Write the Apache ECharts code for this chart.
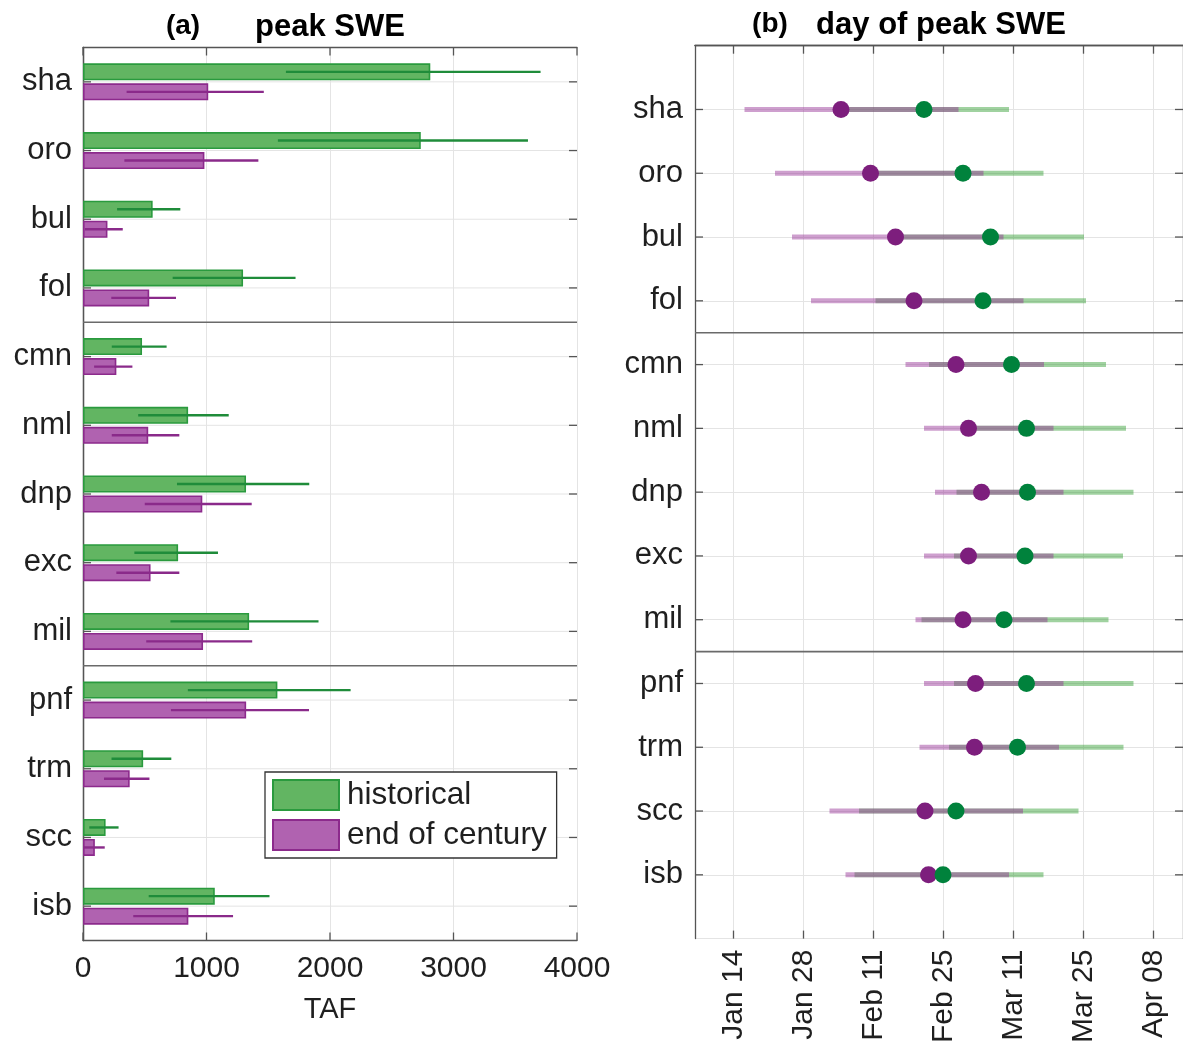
<!DOCTYPE html>
<html>
<head>
<meta charset="utf-8">
<script src="https://cdn.jsdelivr.net/npm/echarts@6/dist/echarts.min.js"></script>
<style>html,body{margin:0;padding:0;background:#fff}#c{width:1183px;height:1046px}</style>
</head>
<body>
<div id="c"></div>
<script>
// ---------- data ----------
const sites = ['sha','oro','bul','fol','cmn','nml','dnp','exc','mil','pnf','trm','scc','isb'];
const groupEnds = ['fol','mil'];

// (a) peak SWE, TAF
const histPeak     = [2812, 2735, 564, 1296, 478, 851, 1320, 770, 1345, 1574, 487, 183, 1067];
const histPeakLow  = [1643, 1578, 276, 726, 233, 447, 761, 416, 708, 849, 231, 51, 532];
const histPeakHigh = [3705, 3603, 788, 1721, 677, 1180, 1832, 1093, 1907, 2167, 715, 288, 1510];
const eocPeak      = [1014, 983, 198, 536, 270, 528, 966, 547, 972, 1321, 378, 96, 853];
const eocPeakLow   = [353, 335, 15, 229, 90, 233, 500, 270, 512, 712, 170, 5, 407];
const eocPeakHigh  = [1464, 1420, 322, 753, 400, 780, 1366, 780, 1370, 1830, 538, 176, 1215];

// (b) day of peak SWE, day of year
const histDay      = [52.1, 59.9, 65.4, 63.9, 69.6, 72.6, 72.8, 72.3, 68.1, 72.6, 70.8, 58.5, 55.9];
const histDayLow   = [36.5, 42.4, 47.5, 42.4, 53.1, 60.1, 58.6, 58.1, 51.6, 58.1, 57.1, 39.1, 38.2];
const histDayHigh  = [69.1, 76.0, 84.1, 84.5, 88.5, 92.5, 94.0, 91.9, 89.0, 94.0, 92.0, 83.0, 76.0];
const eocDay       = [35.5, 41.4, 46.4, 50.1, 58.5, 61.0, 63.6, 61.0, 59.9, 62.4, 62.2, 52.3, 53.0];
const eocDayLow    = [16.2, 22.3, 25.7, 29.5, 48.4, 52.1, 54.3, 52.1, 50.4, 52.1, 51.2, 33.2, 36.4];
const eocDayHigh   = [59.0, 64.0, 68.0, 72.0, 76.1, 78.0, 80.0, 78.0, 76.8, 80.0, 79.1, 71.9, 69.1];

const peakTicks  = [0, 1000, 2000, 3000, 4000];
const dateTicks  = [14, 28, 42, 56, 70, 84, 98];
const dateLabels = ['Jan 14', 'Jan 28', 'Feb 11', 'Feb 25', 'Mar 11', 'Mar 25', 'Apr 08'];

// ---------- style ----------
const FONT = '"Liberation Sans", Arial, Helvetica, sans-serif';
const TXT = '#1f1f1f';
const AX = '#555555';
const GRIDC = '#e4e4e4';
const BAR_W = 17, BAR_GAP = 3;
const G_FILL = '#62b562', G_EDGE = '#2a9a3e', G_ERR = '#1f8c3a';
const P_FILL = '#b062b0', P_EDGE = '#8c2a8c', P_ERR = '#8a2a8a';
const TICK_LEN = 8;

const chart = echarts.init(document.getElementById('c'), null, {renderer: 'canvas'});

function axLine() { return {show: true, lineStyle: {color: AX, width: 1.3}}; }
function lbl(extra) { return Object.assign({color: TXT, fontSize: 30, fontFamily: FONT}, extra || {}); }

function errorBars(low, high, color, dir) {
  return {
    type: 'custom', xAxisIndex: 0, yAxisIndex: 0, z: 5, silent: true,
    data: sites.map((s, i) => [low[i], high[i], i]),
    encode: {x: [0, 1], y: 2},
    renderItem(params, api) {
      const a = api.coord([api.value(0), api.value(2)]);
      const b = api.coord([api.value(1), api.value(2)]);
      const off = dir * (BAR_W / 2 + BAR_GAP / 2);
      return {type: 'line', shape: {x1: a[0], y1: a[1] + off, x2: b[0], y2: b[1] + off},
              style: {stroke: color, lineWidth: 2.4}};
    }
  };
}

function rangeLines(low, high, color) {
  return {
    type: 'custom', xAxisIndex: 2, yAxisIndex: 2, z: 3, silent: true,
    data: sites.map((s, i) => [low[i], high[i], i + 1]),
    encode: {x: [0, 1], y: 2},
    renderItem(params, api) {
      const a = api.coord([api.value(0), api.value(2)]);
      const b = api.coord([api.value(1), api.value(2)]);
      return {type: 'line', shape: {x1: a[0], y1: a[1], x2: b[0], y2: b[1]},
              style: {stroke: color, lineWidth: 5, lineCap: 'butt'}};
    }
  };
}

// inward-pointing ticks on all four sides of a panel (box style)
function frameTicks(xi, yi, xVals, yVals) {
  return {
    type: 'custom', xAxisIndex: xi, yAxisIndex: yi, z: 7, silent: true, clip: false,
    data: [[xVals[0], yVals[0]]], encode: {x: 0, y: 1},
    renderItem(params, api) {
      const cs = params.coordSys;
      const kids = [];
      const seg = (x1, y1, x2, y2) => kids.push({type: 'line', shape: {x1, y1, x2, y2},
        style: {stroke: AX, lineWidth: 1.3}});
      xVals.forEach(v => {
        const x = api.coord([v, yVals[0]])[0];
        seg(x, cs.y + cs.height, x, cs.y + cs.height - TICK_LEN);
        seg(x, cs.y, x, cs.y + TICK_LEN);
      });
      yVals.forEach(v => {
        const y = api.coord([xVals[0], v])[1];
        seg(cs.x, y, cs.x + TICK_LEN, y);
        seg(cs.x + cs.width, y, cs.x + cs.width - TICK_LEN, y);
      });
      return {type: 'group', children: kids};
    }
  };
}

const option = {
  backgroundColor: '#fff',
  animation: false,
  textStyle: {fontFamily: FONT},
  graphic: [
    {type: 'text', x: 183, y: 26, style: {text: '(a)', font: 'bold 28px ' + FONT, fill: '#000', align: 'center', verticalAlign: 'middle'}},
    {type: 'text', x: 330, y: 27, style: {text: 'peak SWE', font: 'bold 31px ' + FONT, fill: '#000', align: 'center', verticalAlign: 'middle'}},
    {type: 'text', x: 770, y: 24, style: {text: '(b)', font: 'bold 28px ' + FONT, fill: '#000', align: 'center', verticalAlign: 'middle'}},
    {type: 'text', x: 941, y: 25, style: {text: 'day of peak SWE', font: 'bold 31px ' + FONT, fill: '#000', align: 'center', verticalAlign: 'middle'}}
  ],
  grid: [
    {left: 83, top: 47.5, width: 494, height: 893, containLabel: false},
    {left: 695, top: 45.7, width: 492, height: 896, containLabel: false}
  ],
  legend: {
    data: ['historical', 'end of century'],
    orient: 'vertical', left: 265, top: 772,
    padding: [7, 10, 7, 7], itemWidth: 66, itemHeight: 30, itemGap: 8,
    borderColor: '#333', borderWidth: 1.3, backgroundColor: '#fff',
    icon: 'rect',
    textStyle: {color: TXT, fontSize: 31.5, fontFamily: FONT, padding: [0, 0, 0, 3]},
    selectedMode: false
  },
  xAxis: [
    {type: 'value', gridIndex: 0, position: 'bottom', min: 0, max: 4000, interval: 1000,
     axisLine: axLine(), axisTick: {show: false},
     axisLabel: lbl({margin: 13, formatter: v => String(v)}),
     splitLine: {show: true, lineStyle: {color: GRIDC, width: 1}},
     name: 'TAF', nameLocation: 'middle', nameGap: 55,
     nameTextStyle: {color: TXT, fontSize: 29, fontFamily: FONT}},
    {type: 'value', gridIndex: 0, position: 'top', min: 0, max: 4000, interval: 1000,
     axisLine: axLine(), axisTick: {show: false}, axisLabel: {show: false}, splitLine: {show: false}},
    {type: 'value', gridIndex: 1, position: 'bottom', min: 6.3, max: 103.9,
     axisLine: axLine(),
     axisTick: {show: false, customValues: dateTicks},
     axisLabel: lbl({customValues: dateTicks, rotate: 90, margin: 11, fontSize: 30,
       formatter: v => { const k = dateTicks.indexOf(v); return k >= 0 ? dateLabels[k] : ''; }}),
     splitLine: {show: true, lineStyle: {color: GRIDC, width: 1}}},
    {type: 'value', gridIndex: 1, position: 'top', min: 6.3, max: 103.9,
     axisLine: axLine(),
     axisTick: {show: false, customValues: dateTicks},
     axisLabel: {show: false, customValues: dateTicks}, splitLine: {show: false}}
  ],
  yAxis: [
    {type: 'category', gridIndex: 0, position: 'left', data: sites, inverse: true,
     axisLine: axLine(), axisTick: {show: false},
     axisLabel: lbl({margin: 11, fontSize: 31}), splitLine: {show: false}},
    {type: 'category', gridIndex: 0, position: 'right', data: sites, inverse: true,
     axisLine: axLine(), axisTick: {show: false},
     axisLabel: {show: false}, splitLine: {show: false}},
    {type: 'value', gridIndex: 1, position: 'left', min: 0, max: 14, interval: 1, inverse: true,
     axisLine: axLine(), axisTick: {show: false},
     axisLabel: lbl({margin: 12, fontSize: 31, formatter: v => (v >= 1 && v <= sites.length) ? sites[v - 1] : ''}),
     splitLine: {show: true, lineStyle: {color: GRIDC, width: 1}}},
    {type: 'value', gridIndex: 1, position: 'right', min: 0, max: 14, interval: 1, inverse: true,
     axisLine: axLine(), axisTick: {show: false}, axisLabel: {show: false}, splitLine: {show: false}}
  ],
  series: [
    // row grid lines in panel (a), at category centres
    {type: 'custom', xAxisIndex: 0, yAxisIndex: 0, z: 1, silent: true,
     data: sites.map((s, i) => [0, i]), encode: {x: 0, y: 1},
     renderItem(params, api) {
       const p = api.coord([0, api.value(1)]);
       const cs = params.coordSys;
       return {type: 'line', shape: {x1: cs.x, y1: p[1], x2: cs.x + cs.width, y2: p[1]},
               style: {stroke: GRIDC, lineWidth: 1}};
     }},
    {type: 'bar', name: 'historical', xAxisIndex: 0, yAxisIndex: 0, data: histPeak,
     barWidth: BAR_W, barGap: (BAR_GAP / BAR_W * 100) + '%', z: 2,
     itemStyle: {color: G_FILL, borderColor: G_EDGE, borderWidth: 1.6}},
    {type: 'bar', name: 'end of century', xAxisIndex: 0, yAxisIndex: 0, data: eocPeak,
     barWidth: BAR_W, barGap: (BAR_GAP / BAR_W * 100) + '%', z: 2,
     itemStyle: {color: P_FILL, borderColor: P_EDGE, borderWidth: 1.6}},
    errorBars(histPeakLow, histPeakHigh, G_ERR, -1),
    errorBars(eocPeakLow, eocPeakHigh, P_ERR, 1),
    // group separators, panel (a)
    {type: 'custom', xAxisIndex: 0, yAxisIndex: 0, z: 6, silent: true,
     data: groupEnds.map(s => [0, sites.indexOf(s)]), encode: {x: 0, y: 1},
     renderItem(params, api) {
       const p = api.coord([0, api.value(1)]);
       const band = api.size([0, 1])[1];
       const cs = params.coordSys;
       const y = p[1] + band / 2;
       return {type: 'line', shape: {x1: cs.x, y1: y, x2: cs.x + cs.width, y2: y},
               style: {stroke: '#6a6a6a', lineWidth: 1.6}};
     }},
    frameTicks(0, 0, peakTicks, sites.map((s, i) => i)),
    // panel (b)
    rangeLines(histDayLow, histDayHigh, 'rgba(44,155,44,0.45)'),
    rangeLines(eocDayLow, eocDayHigh, 'rgba(150,50,150,0.47)'),
    {type: 'scatter', xAxisIndex: 2, yAxisIndex: 2, z: 4, silent: true,
     data: sites.map((s, i) => [eocDay[i], i + 1]), symbol: 'circle', symbolSize: 17,
     itemStyle: {color: '#7d1e7d', opacity: 1}},
    {type: 'scatter', xAxisIndex: 2, yAxisIndex: 2, z: 4, silent: true,
     data: sites.map((s, i) => [histDay[i], i + 1]), symbol: 'circle', symbolSize: 17,
     itemStyle: {color: '#00823c', opacity: 1}},
    {type: 'custom', xAxisIndex: 2, yAxisIndex: 2, z: 6, silent: true,
     data: groupEnds.map(s => [0, sites.indexOf(s) + 1.5]), encode: {x: 0, y: 1},
     renderItem(params, api) {
       const p = api.coord([6.3, api.value(1)]);
       const cs = params.coordSys;
       return {type: 'line', shape: {x1: cs.x, y1: p[1], x2: cs.x + cs.width, y2: p[1]},
               style: {stroke: '#6a6a6a', lineWidth: 1.6}};
     }},
    frameTicks(2, 2, dateTicks, sites.map((s, i) => i + 1))
  ]
};
chart.setOption(option);
</script>
</body>
</html>
